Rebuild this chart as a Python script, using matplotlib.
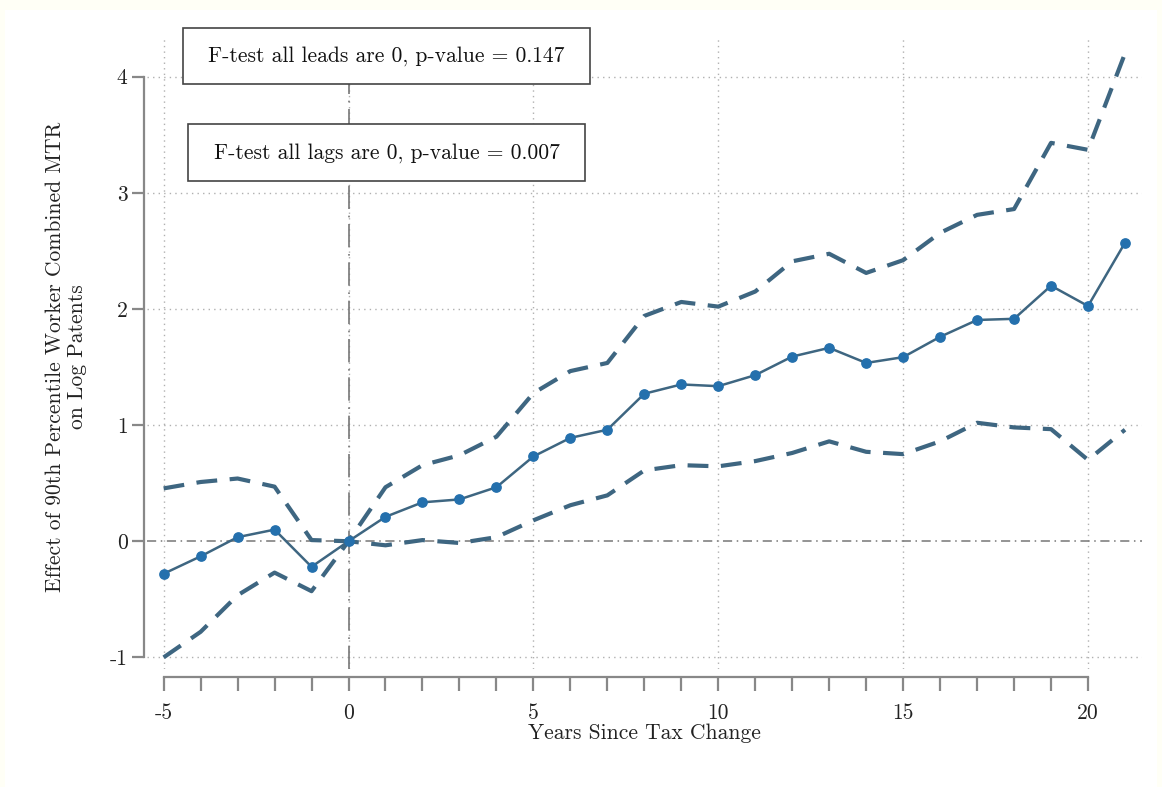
import numpy as np
import matplotlib
matplotlib.use('Agg')
import matplotlib.pyplot as plt
from matplotlib.patches import Rectangle

plt.rcParams['font.family'] = 'cmr10'
plt.rcParams['axes.unicode_minus'] = False
plt.rcParams['axes.formatter.use_mathtext'] = True

# event time and estimates
years = list(range(-5, 22))
coef = [-0.28, -0.13, 0.035, 0.10, -0.22, 0.0, 0.21, 0.335, 0.36, 0.465,
        0.73, 0.89, 0.96, 1.27, 1.35, 1.335, 1.43, 1.59, 1.665, 1.535,
        1.585, 1.76, 1.905, 1.915, 2.2, 2.025, 2.57]
upper = [0.455, 0.51, 0.54, 0.47, 0.01, 0.0, 0.465, 0.655, 0.74, 0.9,
         1.275, 1.465, 1.535, 1.94, 2.06, 2.02, 2.15, 2.41, 2.475, 2.31,
         2.42, 2.655, 2.81, 2.86, 3.43, 3.37, 4.2]
lower = [-1.0, -0.78, -0.465, -0.27, -0.43, 0.0, -0.035, 0.01, -0.015, 0.035,
         0.18, 0.31, 0.395, 0.61, 0.655, 0.645, 0.69, 0.76, 0.86, 0.77,
         0.75, 0.86, 1.02, 0.98, 0.965, 0.70, 0.96]

xticks = [-5, 0, 5, 10, 15, 20]
xtick_labels = ['-5', '0', '5', '10', '15', '20']
yticks = [-1, 0, 1, 2, 3, 4]
ytick_labels = ['-1', '0', '1', '2', '3', '4']

W, H = 1162, 787
fs = 15.5
fig = plt.figure(figsize=(W / 100, H / 100), dpi=100)
fig.patch.set_facecolor('#fffff6')
fig.patches.append(Rectangle((5 / W, 0), (W - 10) / W, (H - 10) / H,
                             transform=fig.transFigure, facecolor='white',
                             edgecolor='none', zorder=-10))

# axes box in pixels: left 147, right 1142, top 36, bottom 669
ax = fig.add_axes([147 / W, 1 - 669 / H, (1142 - 147) / W, (669 - 36) / H])
ax.set_facecolor('white')
ax.set_xlim(-5.45, 21.46)
ax.set_ylim(-1.1, 4.35)

gridc = '#b0b0b0'
for x in xticks:
    ax.axvline(x, color=gridc, lw=1, ls=(0, (1, 3)), zorder=1)
for y in yticks:
    if y != 0:
        ax.axhline(y, color=gridc, lw=1, ls=(0, (1, 3)), zorder=1)

ax.axhline(0, color='#777777', lw=1.1, ls=(0, (6, 3, 1, 3)), zorder=2)
ax.axvline(0, color='#777777', lw=1.2, ls=(0, (14, 4, 1, 4)), zorder=2)

linec = '#3e6681'
ax.plot(years, upper, color=linec, lw=3, ls=(0, (5, 3)), zorder=3)
ax.plot(years, lower, color=linec, lw=3, ls=(0, (5, 3)), zorder=3)
ax.plot(years, coef, color=linec, lw=1.8, zorder=4)
ax.scatter(years, coef, s=45, color='#2470ad', zorder=5)

spc = '#888888'
for side in ['top', 'right']:
    ax.spines[side].set_visible(False)
ax.spines['left'].set_position(('outward', 2))
ax.spines['bottom'].set_position(('outward', 6))
ax.spines['left'].set_bounds(-1, 4)
ax.spines['bottom'].set_bounds(-5, 20)
for side in ['left', 'bottom']:
    ax.spines[side].set_color(spc)
    ax.spines[side].set_linewidth(1.6)

ax.set_xticks(xticks)
ax.set_xticklabels(xtick_labels)
ax.set_xticks(range(-5, 21), minor=True)
ax.set_yticks(yticks)
ax.set_yticklabels(ytick_labels)
ax.tick_params(axis='x', which='both', length=10, width=1.6, color=spc,
               labelsize=fs, pad=9, labelcolor='#222222')
ax.tick_params(axis='y', length=9, width=1.6, color=spc, labelsize=fs,
               pad=3, labelcolor='#222222')

ax.set_xlabel('Years Since Tax Change', fontsize=fs, color='#222222')
ax.xaxis.set_label_coords((8 + 5.45) / (21.46 + 5.45), -0.086)
ax.set_ylabel('Effect of 90th Percentile Worker Combined MTR\non Log Patents',
              fontsize=fs, linespacing=1.15, color='#222222')
ax.yaxis.set_label_coords(-0.06, 0.493)

box = dict(boxstyle='square,pad=0.85', facecolor='white', edgecolor='#444444',
           linewidth=1.2)
ax.text(1.03, 4.18, ' F-test all leads are 0, p-value = 0.147 ', fontsize=fs,
        ha='center', va='center', bbox=box, color='#111111', zorder=6)
ax.text(1.03, 3.345, ' F-test all lags are 0, p-value = 0.007 ', fontsize=fs,
        ha='center', va='center', bbox=box, color='#111111', zorder=6)

fig.savefig('out.png', dpi=100, facecolor=fig.get_facecolor())
